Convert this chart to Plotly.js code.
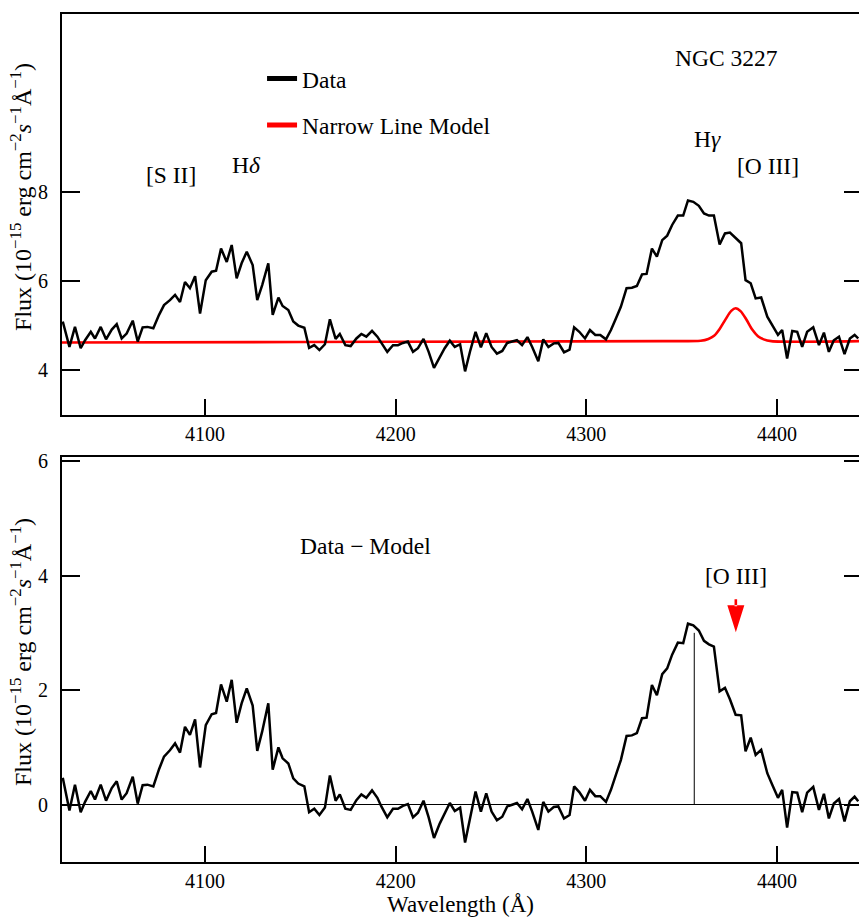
<!DOCTYPE html>
<html>
<head>
<meta charset="utf-8">
<script src="https://cdn.plot.ly/plotly-3.0.1.min.js"></script>
<style>
  html, body { margin: 0; padding: 0; background: #fff; }
  #chart { width: 859px; height: 917px; }
</style>
</head>
<body>
<div id="chart"></div>
<script>
// ---- Data ----
const wavelength = [
  4025.4,4028.9,4031.8,4034.8,4037.1,4040.1,4042.3,4045.3,4048.1,4051.1,
  4053.7,4056.3,4058.9,4062.1,4064.7,4067.3,4069.8,4072.9,4075.9,4078.5,
  4081.6,4084.3,4086.9,4089.5,4092.1,4094.8,4097.4,4100.4,4103.5,4105.8,
  4108.4,4111.4,4114.0,4116.6,4119.2,4121.9,4125.0,4127.4,4130.0,4133.2,
  4135.5,4138.5,4140.7,4143.7,4146.3,4148.9,4152.1,4154.6,4157.3,4160.0,
  4162.9,4165.5,4168.5,4170.7,4173.6,4176.4,4179.4,4182.0,4184.6,4187.6,
  4190.4,4192.5,4195.6,4198.6,4201.2,4203.8,4206.4,4209.1,4211.7,4214.6,
  4217.3,4220.1,4223.1,4225.7,4228.4,4231.0,4233.8,4236.4,4239.2,4241.9,
  4244.7,4247.5,4250.3,4253.1,4255.9,4258.5,4261.1,4263.6,4266.3,4269.1,
  4271.6,4274.8,4277.4,4280.1,4282.9,4285.3,4288.3,4291.2,4293.6,4296.3,
  4299.3,4301.9,4304.7,4307.3,4310.3,4312.9,4315.5,4318.1,4321.1,4323.9,
  4326.5,4329.2,4331.6,4334.4,4337.0,4339.8,4342.4,4345.0,4348.0,4350.8,
  4353.3,4356.1,4359.0,4361.7,4364.3,4366.9,4369.9,4372.7,4375.3,4378.3,
  4381.2,4383.5,4386.2,4388.8,4391.7,4394.9,4397.5,4400.5,4402.7,4405.3,
  4408.0,4410.6,4413.2,4415.8,4419.0,4422.0,4424.6,4427.2,4429.8,4432.5,
  4435.4,4438.2,4440.7,4442.6
];
const fluxData = [
  5.09,4.52,4.97,4.49,4.67,4.86,4.71,4.97,4.69,4.91,
  5.03,4.71,4.82,5.11,4.64,4.96,4.97,4.94,5.24,5.46,
  5.57,5.69,5.53,5.98,5.84,6.11,5.27,6.02,6.21,6.23,
  6.73,6.43,6.81,6.06,6.40,6.66,6.36,5.57,5.91,6.40,
  5.24,5.63,5.44,5.35,5.09,5.00,4.95,4.50,4.56,4.45,
  4.58,5.14,4.70,4.81,4.56,4.54,4.71,4.81,4.75,4.88,
  4.75,4.60,4.41,4.56,4.56,4.61,4.64,4.41,4.49,4.70,
  4.41,4.05,4.30,4.49,4.66,4.52,4.58,3.97,4.45,4.86,
  4.51,4.83,4.52,4.37,4.43,4.61,4.64,4.67,4.56,4.74,
  4.52,4.20,4.69,4.52,4.60,4.61,4.40,4.46,4.96,4.86,
  4.71,4.90,4.79,4.79,4.69,4.90,5.16,5.42,5.84,5.85,
  5.89,6.15,6.16,6.73,6.55,6.92,7.02,7.26,7.47,7.47,
  7.81,7.78,7.69,7.52,7.47,7.47,6.82,7.07,7.09,6.97,
  6.85,6.02,5.95,5.61,5.63,5.20,5.01,4.79,4.90,4.26,
  4.88,4.86,4.52,4.86,4.96,4.56,4.84,4.41,4.67,4.75,
  4.36,4.71,4.79,4.71
];
const residual = [
  0.47,-0.10,0.35,-0.13,0.05,0.24,0.09,0.35,0.07,0.29,
  0.41,0.09,0.20,0.49,0.02,0.34,0.35,0.32,0.62,0.84,
  0.95,1.07,0.91,1.36,1.22,1.49,0.65,1.39,1.58,1.60,
  2.10,1.80,2.18,1.43,1.77,2.03,1.73,0.94,1.28,1.77,
  0.61,1.00,0.81,0.72,0.46,0.37,0.32,-0.13,-0.07,-0.18,
  -0.05,0.51,0.07,0.18,-0.07,-0.09,0.08,0.18,0.12,0.25,
  0.12,-0.03,-0.22,-0.07,-0.07,-0.02,0.01,-0.22,-0.14,0.07,
  -0.22,-0.58,-0.33,-0.14,0.03,-0.11,-0.05,-0.66,-0.18,0.23,
  -0.12,0.20,-0.12,-0.27,-0.21,-0.03,0.00,0.03,-0.08,0.10,
  -0.12,-0.44,0.05,-0.12,-0.04,-0.03,-0.24,-0.18,0.32,0.22,
  0.07,0.26,0.15,0.15,0.05,0.26,0.52,0.78,1.20,1.21,
  1.25,1.51,1.52,2.09,1.91,2.28,2.38,2.62,2.83,2.82,
  3.16,3.13,3.04,2.86,2.80,2.76,1.98,2.04,1.84,1.57,
  1.56,0.93,1.17,0.87,0.96,0.55,0.35,0.12,0.26,-0.40,
  0.22,0.21,-0.13,0.21,0.31,-0.09,0.19,-0.24,0.02,0.10,
  -0.29,0.06,0.14,0.06
];
// Narrow line model (red curve)
const modelWavelength = [4025,4150,4250,4340,4360,4364,4367,4370,4373,4376,4378.3,4381,4384,4387,4390,4393,4397,4443];
const modelFlux       = [4.62,4.63,4.64,4.65,4.66,4.70,4.77,4.93,5.14,5.33,5.39,5.32,5.13,4.91,4.76,4.69,4.65,4.65];

// marker of the peak centroid in the residual panel
const peakLineX = [4356.6, 4356.6];
const peakLineY = [0, 3.0];
// [O III] arrow tip
const arrowX = 4378.4;
const arrowY = 3.01;

// axis ticks
const xTicks = [4100, 4200, 4300, 4400];
const yTicksTop = [4, 6, 8];
const yTicksBottom = [0, 2, 4, 6];

const xRange = [4025.0, 4443.0];
const yRangeTop = [2.99, 12.0];
const yRangeBottom = [-1.0, 6.07];

const FONT = 'Liberation Serif, Times New Roman, serif';
const fluxTitle = 'Flux (10<sup>−15</sup> erg cm<sup>−2</sup><i>s</i><sup>−1</sup>Å<sup>−1</sup>)';

const traces = [
  // top panel
  {x: modelWavelength, y: modelFlux, xaxis: 'x2', yaxis: 'y2', mode: 'lines',
   line: {color: '#ff0000', width: 2.6, shape: 'spline', smoothing: 0.8}, showlegend: false, hoverinfo: 'skip'},
  {x: wavelength, y: fluxData, xaxis: 'x2', yaxis: 'y2', mode: 'lines',
   line: {color: '#000000', width: 2.5}, showlegend: false, hoverinfo: 'skip'},
  // legend entries
  {x: [null], y: [null], xaxis: 'x2', yaxis: 'y2', mode: 'lines', name: 'Data',
   legendgroup: 'g1', line: {color: '#000000', width: 5}},
  {x: [null], y: [null], xaxis: 'x2', yaxis: 'y2', mode: 'lines', name: 'Narrow Line Model',
   legendgroup: 'g2', line: {color: '#ff0000', width: 5}},
  // bottom panel
  {x: peakLineX, y: peakLineY, xaxis: 'x', yaxis: 'y', mode: 'lines',
   line: {color: '#000000', width: 1}, showlegend: false, hoverinfo: 'skip'},
  {x: wavelength, y: residual, xaxis: 'x', yaxis: 'y', mode: 'lines',
   line: {color: '#000000', width: 2.5}, showlegend: false, hoverinfo: 'skip'},
  // carriers for right-side tick axes
  {x: [null], y: [null], xaxis: 'x', yaxis: 'y3', showlegend: false, hoverinfo: 'skip'},
  {x: [null], y: [null], xaxis: 'x2', yaxis: 'y4', showlegend: false, hoverinfo: 'skip'}
];

const tickFont = {family: 'Liberation Serif', size: 20, color: '#000'};
const titleFont = {family: FONT, size: 23, color: '#000'};
const textFont = {family: FONT, size: 23.5, color: '#000'};

const xCommon = {
  range: xRange, tickvals: xTicks, ticks: 'inside', ticklen: 16, tickwidth: 2, tickcolor: '#000',
  showline: true, linewidth: 2, linecolor: '#000', mirror: true, showgrid: false, zeroline: false,
  tickfont: tickFont
};
const yCommon = {
  ticks: 'inside', ticklen: 18, tickwidth: 2, tickcolor: '#000', showline: true, linewidth: 2,
  linecolor: '#000', showgrid: false, tickfont: tickFont, ticklabelstandoff: 8
};

const layout = {
  width: 859, height: 917,
  margin: {l: 62, r: 0, t: 14, b: 55},
  paper_bgcolor: '#fff', plot_bgcolor: '#fff',
  font: {family: FONT, color: '#000'},
  showlegend: true,
  legend: {x: 0.251, y: 0.9497, xanchor: 'left', yanchor: 'top', bgcolor: 'rgba(0,0,0,0)',
           font: textFont, traceorder: 'grouped', tracegroupgap: 13, itemwidth: 30},
  xaxis: Object.assign({}, xCommon, {anchor: 'y',
    title: {text: 'Wavelength (Å)', font: titleFont, standoff: 6}}),
  xaxis2: Object.assign({}, xCommon, {anchor: 'y2', matches: 'x'}),
  yaxis: Object.assign({}, yCommon, {domain: [0, 0.4776], range: yRangeBottom, tickvals: yTicksBottom,
    zeroline: true, zerolinecolor: '#000', zerolinewidth: 1}),
  yaxis2: Object.assign({}, yCommon, {domain: [0.5271, 1], range: yRangeTop, tickvals: yTicksTop,
    zeroline: false}),
  yaxis3: {overlaying: 'y', side: 'right', range: yRangeBottom, tickvals: yTicksBottom,
    ticks: 'inside', ticklen: 15, tickwidth: 2, tickcolor: '#000', showticklabels: false,
    showline: false, showgrid: false, zeroline: false},
  yaxis4: {overlaying: 'y2', side: 'right', range: yRangeTop, tickvals: yTicksTop,
    ticks: 'inside', ticklen: 15, tickwidth: 2, tickcolor: '#000', showticklabels: false,
    showline: false, showgrid: false, zeroline: false},
  annotations: [
    {xref: 'x2', yref: 'y2', x: 4373.7, y: 11.01, text: 'NGC 3227', showarrow: false, font: textFont},
    {xref: 'x2', yref: 'y2', x: 4363.8, y: 9.19, text: 'H<i>γ</i>', showarrow: false, font: textFont},
    {xref: 'x2', yref: 'y2', x: 4395.2, y: 8.58, text: '[O III]', showarrow: false, font: textFont},
    {xref: 'x2', yref: 'y2', x: 4122.0, y: 8.61, text: 'H<i>δ</i>', showarrow: false, font: textFont},
    {xref: 'x2', yref: 'y2', x: 4082.2, y: 8.38, text: '[S II]', showarrow: false, font: textFont},
    {xref: 'x', yref: 'y', x: 4184.4, y: 4.51, text: 'Data − Model', showarrow: false, font: textFont},
    {xref: 'x', yref: 'y', x: 4378.4, y: 4.0, text: '[O III]', showarrow: false, font: textFont},
    // y-axis titles
    {xref: 'paper', yref: 'paper', x: -0.0515, y: 0.7842, xanchor: 'center', yanchor: 'middle',
     textangle: -90, text: fluxTitle, showarrow: false, font: {family: FONT, size: 24, color: '#000'}},
    {xref: 'paper', yref: 'paper', x: -0.0515, y: 0.2476, xanchor: 'center', yanchor: 'middle',
     textangle: -90, text: fluxTitle, showarrow: false, font: {family: FONT, size: 24, color: '#000'}}
  ],
  shapes: [
    {type: 'path', xref: 'x', yref: 'y', xsizemode: 'pixel', ysizemode: 'pixel',
     xanchor: arrowX, yanchor: arrowY,
     path: 'M-8.5,27 L8.5,27 L0,0 Z M-1.3,26 L-1.3,33 L1.3,33 L1.3,26 Z',
     fillcolor: '#ff0000', line: {width: 0}}
  ]
};

Plotly.newPlot('chart', traces, layout, {staticPlot: true, displayModeBar: false});
</script>
</body>
</html>
